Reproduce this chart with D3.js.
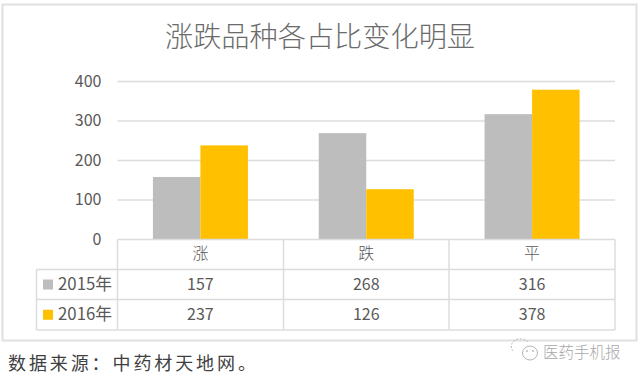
<!DOCTYPE html>
<html>
<head>
<meta charset="utf-8">
<script src="https://cdn.jsdelivr.net/npm/d3@7.9.0/dist/d3.min.js"></script>
<style>
  html, body { margin: 0; padding: 0; background: #fff; }
  svg { display: block; }
  text { font-family: "Noto Sans CJK SC", "Noto Sans", sans-serif; }
</style>
</head>
<body>
<svg id="chart" width="640" height="379"></svg>
<script>
const categories = ['涨', '跌', '平'];
const seriesNames = ['2015年', '2016年'];
const values2015 = [157, 268, 316];
const values2016 = [237, 126, 378];
const yTicks = [0, 100, 200, 300, 400];
const titleText = '涨跌品种各占比变化明显';
const sourceText = '数据来源：中药材天地网。';
const watermarkText = '医药手机报';

const colors = ['#bdbdbd', '#ffc000'];
const gridColor = '#dcdcdc';
const textColor = '#595959';

const svg = d3.select('#chart');
const seriesValues = [values2015, values2016];

// outer frame
svg.append('rect')
  .attr('x', 2.5).attr('y', 4.5)
  .attr('width', 634).attr('height', 336)
  .attr('fill', '#fff')
  .attr('stroke', '#e0e0e0')
  .attr('stroke-width', 2);

svg.append('text')
  .attr('x', 320).attr('y', 47)
  .attr('text-anchor', 'middle')
  .attr('font-size', 28.2)
  .attr('font-weight', 300)
  .attr('fill', '#6b6b6b')
  .text(titleText);

const x = d3.scaleBand().domain(categories).range([117.5, 615]);
const barWidth = 47.5;
const y = d3.scaleLinear().domain([0, 400]).range([239, 81]);

// gridlines and tick labels
const yAxis = d3.axisLeft(y).tickValues(yTicks).tickSize(0).tickPadding(16);
const yG = svg.append('g').attr('transform', 'translate(117.5,0)').call(yAxis);
yG.select('.domain').remove();
yG.selectAll('text').attr('font-size', 16).attr('fill', textColor);
yG.selectAll('.tick line')
  .attr('x2', d => d === 0 ? 0 : 615 - 117.5)
  .attr('stroke', gridColor)
  .attr('stroke-width', 1.5);

// bars
seriesValues.forEach((vals, s) => {
  svg.append('g').selectAll('rect')
    .data(vals)
    .join('rect')
    .attr('x', (d, i) => x(categories[i]) + x.bandwidth() / 2 + (s - 1) * barWidth)
    .attr('y', d => y(d))
    .attr('width', barWidth)
    .attr('height', d => y(0) - y(d))
    .attr('fill', colors[s]);
});

// data table under the plot
const rowY = [239.5, 269.5, 299.5, 330];
const tableLeft = 36.5;
const table = svg.append('g').attr('stroke', gridColor).attr('stroke-width', 1.5);

rowY.forEach((ry, i) => {
  table.append('line')
    .attr('x1', i === 0 ? 117.5 : tableLeft).attr('x2', 615)
    .attr('y1', ry).attr('y2', ry);
});
[117.5, 283.5, 449, 615].forEach(vx => {
  table.append('line').attr('x1', vx).attr('x2', vx).attr('y1', rowY[0]).attr('y2', rowY[3]);
});
table.append('line').attr('x1', tableLeft).attr('x2', tableLeft).attr('y1', rowY[1]).attr('y2', rowY[3]);

svg.append('g').selectAll('text')
  .data(categories)
  .join('text')
  .attr('x', d => x(d) + x.bandwidth() / 2)
  .attr('y', 259)
  .attr('text-anchor', 'middle')
  .attr('font-size', 16)
  .attr('font-weight', 300)
  .attr('fill', textColor)
  .text(d => d);

seriesValues.forEach((vals, s) => {
  const cy = (rowY[s + 1] + rowY[s + 2]) / 2;
  svg.append('rect')
    .attr('x', 43).attr('y', cy - 5)
    .attr('width', 10).attr('height', 10)
    .attr('fill', colors[s]);
  svg.append('text')
    .attr('x', 58).attr('y', cy + 5.5)
    .attr('font-size', 16.8)
    .attr('fill', textColor)
    .text(seriesNames[s]);
  svg.append('g').selectAll('text')
    .data(vals)
    .join('text')
    .attr('x', (d, i) => x(categories[i]) + x.bandwidth() / 2)
    .attr('y', cy + 5.5)
    .attr('text-anchor', 'middle')
    .attr('font-size', 16)
    .attr('fill', textColor)
    .text(d => d);
});

svg.append('text')
  .attr('x', 8).attr('y', 370)
  .attr('font-size', 18)
  .attr('letter-spacing', 2.9)
  .attr('fill', '#3f3f3f')
  .text(sourceText);

// watermark: small chat bubbles plus the account name
const mark = svg.append('g').attr('fill', 'none').attr('stroke', '#b5b5b5').attr('stroke-width', 1);
mark.append('path').attr('d', 'M528 342 A9 7.5 0 0 0 513 351').attr('stroke-dasharray', '2 1.5');
mark.append('ellipse').attr('cx', 530).attr('cy', 353).attr('rx', 7.5).attr('ry', 7);
mark.append('circle').attr('cx', 527).attr('cy', 351).attr('r', 0.6);
mark.append('circle').attr('cx', 533).attr('cy', 351).attr('r', 0.6);
svg.append('text')
  .attr('x', 543).attr('y', 358)
  .attr('font-size', 15.5)
  .attr('font-weight', 300)
  .attr('fill', '#a8a8a8')
  .text(watermarkText);
</script>
</body>
</html>
